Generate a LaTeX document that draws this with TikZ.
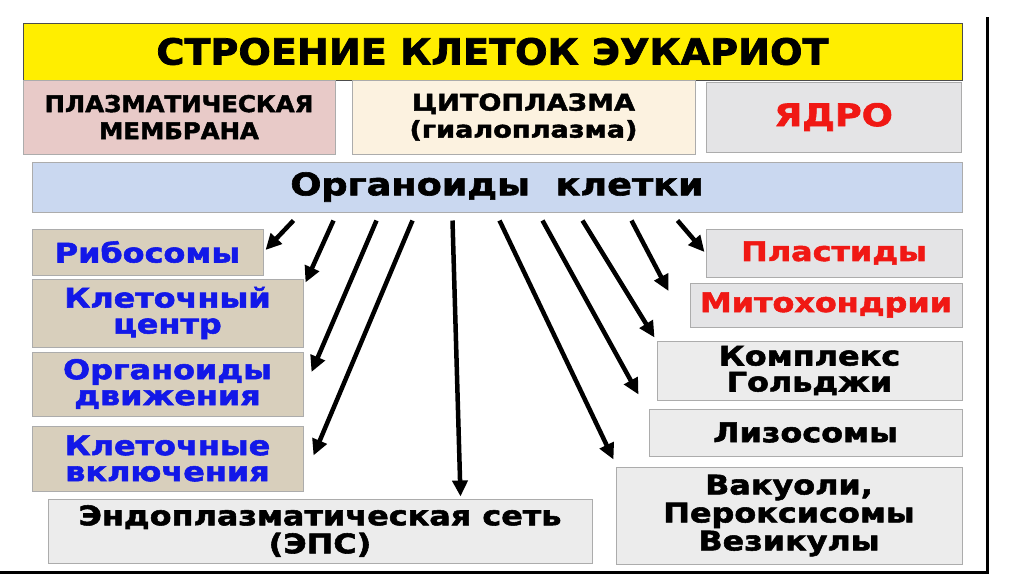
\documentclass[tikz,border=0pt]{standalone}
\usepackage{fontspec}
\setmainfont{DejaVu Sans}
\newfontfamily\capsfam{DejaVu Sans}[BoldFeatures={FakeStretch=1.06,FakeBold=2}]
\newfontfamily\widefam{DejaVu Sans}[BoldFeatures={FakeStretch=1.18,FakeBold=2}]
\usetikzlibrary{arrows.meta,positioning,calc}
\definecolor{ctitle}{RGB}{255,238,0}
\definecolor{cmem}{RGB}{232,202,200}
\definecolor{ccyt}{RGB}{252,242,224}
\definecolor{cmarble}{RGB}{228,228,230}
\definecolor{corg}{RGB}{202,216,240}
\definecolor{ccanvas}{RGB}{216,207,188}
\definecolor{cpale}{RGB}{236,236,236}
\definecolor{cblue}{RGB}{18,24,232}
\definecolor{cred}{RGB}{240,24,20}
\newcommand{\fsz}[2]{\fontsize{#1}{#2}\selectfont\bfseries}
\newcommand{\fcap}[2]{\capsfam\fsz{#1}{#2}}
\newcommand{\fwide}[2]{\widefam\fsz{#1}{#2}}

\begin{document}
\begin{tikzpicture}[x=1pt,y=-1pt,
    box/.style={draw=gray!65, line width=1pt, inner sep=0pt, align=center},
    arr/.style={line width=4.5pt, -{Triangle[length=16pt,width=15pt]}}]
  \useasboundingbox (0,0) rectangle (1024,574);
  % frame of the slide
  \draw[line width=3pt] (0,572) -- (987,572) -- (987,17);
  % top row
  \node[box, fill=ctitle, draw=black!70, minimum width=939pt, minimum height=57pt,
        font=\fcap{36}{40}] (title) at (492.5,51.5) {СТРОЕНИЕ КЛЕТОК ЭУКАРИОТ};
  \node[box, fill=cmem, minimum width=312pt, minimum height=74pt,
        font=\fcap{23}{27}] (mem) at (179,117) {ПЛАЗМАТИЧЕСКАЯ\\МЕМБРАНА};
  \node[box, fill=ccyt, minimum width=343pt, minimum height=74pt,
        font=\fwide{23}{27}] (cyt) at (523.5,117) {ЦИТОПЛАЗМА\\(гиалоплазма)};
  \node[box, fill=cmarble, minimum width=255pt, minimum height=70pt,
        font=\fwide{31}{34}, text=cred] (nuc) at (833.5,117) {ЯДРО};
  \node[box, fill=corg, minimum width=930pt, minimum height=50pt,
        font=\fwide{31}{36}] (org) at (497,187) {Органоиды\ \ клетки};
  % left column
  \node[box, fill=ccanvas, minimum width=231pt, minimum height=46pt,
        font=\fwide{27}{26}, text=cblue] (ribo) at (147.5,252) {Рибосомы};
  \node[box, fill=ccanvas, minimum width=271pt, minimum height=68pt,
        font=\fwide{27}{26}, text=cblue] (cc) at (167.5,313) {Клеточный\\центр};
  \node[box, fill=ccanvas, minimum width=271pt, minimum height=64pt,
        font=\fwide{27}{26}, text=cblue] (mov) at (167.5,384) {Органоиды\\движения};
  \node[box, fill=ccanvas, minimum width=271pt, minimum height=65pt,
        font=\fwide{27}{26}, text=cblue] (inc) at (167.5,458.5) {Клеточные\\включения};
  \node[box, fill=cpale, minimum width=544pt, minimum height=64pt,
        font=\fwide{27}{28}] (eps) at (320,531) {Эндоплазматическая сеть\\(ЭПС)};
  % right column
  \node[box, fill=cmarble, minimum width=256pt, minimum height=48pt,
        font=\fwide{27}{28}, text=cred] (pla) at (834,253) {Пластиды};
  \node[box, fill=cmarble, minimum width=272pt, minimum height=44pt,
        font=\fwide{27}{28}, text=cred] (mit) at (826,305) {Митохондрии};
  \node[box, fill=cpale, minimum width=305pt, minimum height=59pt,
        font=\fwide{27}{26}] (gol) at (809.5,370.5) {Комплекс\\Гольджи};
  \node[box, fill=cpale, minimum width=313pt, minimum height=47pt,
        font=\fwide{27}{26}] (lys) at (805.5,432.5) {Лизосомы};
  \node[box, fill=cpale, minimum width=346pt, minimum height=97pt,
        font=\fwide{27}{28}] (vac) at (789,515.5) {Вакуоли,\\Пероксисомы\\Везикулы};
  % arrows from the organoid bar
  \draw[arr] ([xshift=262pt,yshift=-8pt]org.south west) -- ([xshift=2pt,yshift=2pt]ribo.east);
  \draw[arr] ([xshift=302pt,yshift=-8pt]org.south west) -- ([xshift=2pt,yshift=-4pt]cc.north east);
  \draw[arr] ([xshift=345pt,yshift=-8pt]org.south west) -- ([xshift=8pt,yshift=12pt]mov.east);
  \draw[arr] ([xshift=381pt,yshift=-8pt]org.south west) -- ([xshift=10pt,yshift=3pt]inc.east);
  \draw[arr] ([xshift=421pt,yshift=-8pt]org.south west) -- ([xshift=413pt,yshift=2pt]eps.north west);
  \draw[arr] ([xshift=468pt,yshift=-8pt]org.south west) -- ([xshift=-2pt,yshift=7pt]vac.north west);
  \draw[arr] ([xshift=511pt,yshift=-8pt]org.south west) -- ([xshift=-10pt,yshift=14pt]lys.north west);
  \draw[arr] ([xshift=551pt,yshift=-8pt]org.south west) -- ([xshift=-2pt,yshift=3pt]gol.north west);
  \draw[arr] ([xshift=600pt,yshift=-8pt]org.south west) -- ([xshift=-21pt,yshift=14pt]mit.west);
  \draw[arr] ([xshift=646pt,yshift=-8pt]org.south west) -- ([xshift=-1pt,yshift=1pt]pla.west);
\end{tikzpicture}
\end{document}
